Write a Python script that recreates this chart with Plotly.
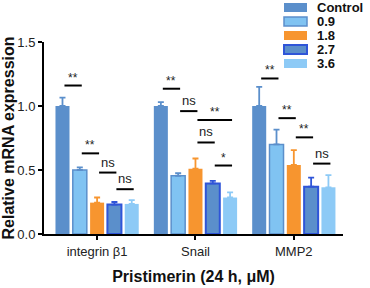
import plotly.graph_objects as go

categories = ["integrin β1", "Snail", "MMP2"]
series_names = ["Control", "0.9", "1.8", "2.7", "3.6"]

control = [1.0, 1.0, 1.0]
control_err = [0.065, 0.03, 0.15]
d09 = [0.50, 0.455, 0.70]
d09_err = [0.02, 0.02, 0.115]
d18 = [0.245, 0.51, 0.54]
d18_err = [0.04, 0.08, 0.115]
d27 = [0.23, 0.395, 0.37]
d27_err = [0.02, 0.02, 0.07]
d36 = [0.235, 0.285, 0.365]
d36_err = [0.03, 0.04, 0.095]

values = [control, d09, d18, d27, d36]
errors = [control_err, d09_err, d18_err, d27_err, d36_err]

fills = ["#5b8fcb", "#80c3f2", "#f7952f", "#5b8fcb", "#8dcaf6"]
borders = ["#5b8fcb", "#5b8fcb", "#f7952f", "#2f55d8", "#8dcaf6"]
border_w = [0, 1.5, 0, 2, 0]

# significance comparisons: (category index, series a, series b, y level, label)
sig_cat = [0, 0, 0, 0, 1, 1, 1, 1, 1, 2, 2, 2, 2]
sig_a = [0, 1, 2, 3, 0, 1, 2, 2, 3, 0, 1, 2, 3]
sig_b = [1, 2, 3, 4, 1, 2, 4, 3, 4, 1, 2, 3, 4]
sig_y = [1.16, 0.63, 0.48, 0.35, 1.135, 0.96, 0.89, 0.715, 0.535, 1.215, 0.905, 0.755, 0.55]
sig_label = ["**", "**", "ns", "ns", "**", "ns", "**", "ns", "*", "**", "**", "**", "ns"]

FONT = "Arial, Liberation Sans, sans-serif"
W, H = 370, 288
ML, MR, MT, MB = 44, 27, 42, 54
PW, PH = W - ML - MR, H - MT - MB
bargap = 0.12
bargroupgap = 0.19
n = len(series_names)
slot = (1 - bargap) / n

def px_x(xp):
    return (xp - ML) / PW

def px_y(yp):
    return (H - MB - yp) / PH

x = list(range(len(categories)))
fig = go.Figure()
for i in range(n):
    fig.add_trace(go.Bar(
        x=x, y=values[i], name=series_names[i],
        marker=dict(color=fills[i], line=dict(color=borders[i], width=border_w[i])),
        error_y=dict(type="data", array=errors[i], arrayminus=[0] * len(x), symmetric=False,
                     color=borders[i], thickness=1.8, width=3),
        showlegend=False,
    ))

def bar_center(c, s):
    return c - (1 - bargap) / 2 + slot * (s + 0.5)

for c, a, b, yv, lab in zip(sig_cat, sig_a, sig_b, sig_y, sig_label):
    x0 = bar_center(c, a) + 0.02
    x1 = bar_center(c, b) + 0.02
    fig.add_shape(type="line", x0=x0, x1=x1, y0=yv, y1=yv, xref="x", yref="y",
                  line=dict(color="black", width=2))
    star = "*" in lab
    fig.add_annotation(x=(x0 + x1) / 2, y=yv, xref="x", yref="y", text=lab, showarrow=False,
                       yanchor="bottom", yshift=-1 if star else 1,
                       font=dict(family=FONT, size=12 if star else 13, color="#222"))

# legend drawn at top right
for i in range(n):
    fig.add_shape(type="rect", xref="paper", yref="paper",
                  x0=px_x(284), x1=px_x(307), y0=px_y(3 + 14 * i), y1=px_y(12 + 14 * i),
                  fillcolor=fills[i], line=dict(color=borders[i], width=border_w[i]),
                  layer="above")
    fig.add_annotation(xref="paper", yref="paper", x=px_x(317), y=px_y(7.5 + 14 * i),
                       text="<b>" + series_names[i] + "</b>", showarrow=False,
                       xanchor="left", yanchor="middle", xshift=-2,
                       font=dict(family=FONT, size=13, color="#111"))

fig.update_layout(
    width=W, height=H,
    margin=dict(l=ML, r=MR, t=MT, b=MB),
    barmode="group", bargap=bargap, bargroupgap=bargroupgap,
    plot_bgcolor="white", paper_bgcolor="white",
    font=dict(family=FONT, color="#222"),
    showlegend=False,
    xaxis=dict(range=[-0.54, 2.5], tickvals=x, ticktext=categories, automargin=False,
               showline=True, linecolor="black", linewidth=2, ticks="outside",
               ticklen=4, tickwidth=1.5, tickcolor="black", showgrid=False, zeroline=False,
               tickfont=dict(size=13, family=FONT, color="#222"),
               title=dict(text="<b>Pristimerin (24 h, μM)</b>", font=dict(size=16, family=FONT, color="#111"), standoff=13)),
    yaxis=dict(range=[0, 1.5], tickvals=[0, 0.5, 1.0, 1.5], ticktext=["0.0", "0.5", "1.0", "1.5"], automargin=False,
               showline=True, linecolor="black", linewidth=2, ticks="outside",
               ticklen=4, tickwidth=1.5, tickcolor="black", showgrid=False, zeroline=False,
               tickfont=dict(size=13, family=FONT, color="#222"),
               title=dict(text="<b>Relative mRNA expression</b>", font=dict(size=16, family=FONT, color="#111"), standoff=2)),
)

fig.write_html("out.html", config={"displayModeBar": False},
               post_script="document.body.style.margin='0';document.body.style.padding='0';")
